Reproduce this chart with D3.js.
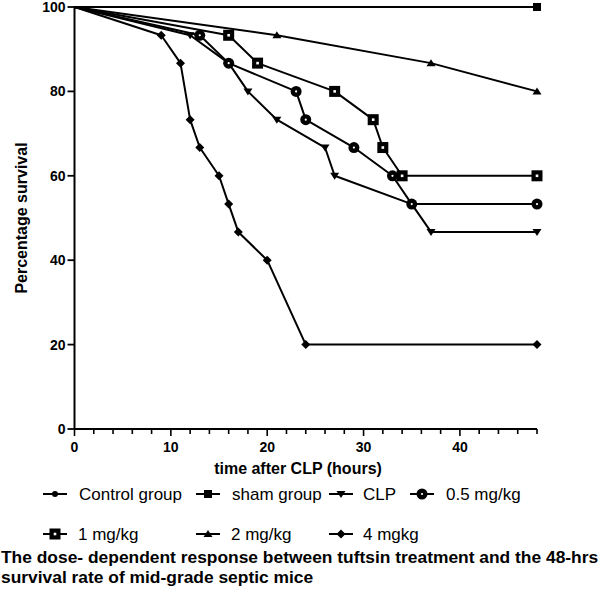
<!DOCTYPE html>
<html><head><meta charset="utf-8">
<script src="https://cdn.jsdelivr.net/npm/d3@7"></script>
<style>body{margin:0;background:#fff}svg{display:block}text{font-family:"Liberation Sans",Arial,sans-serif;fill:#000}</style>
</head><body>
<script>
// ---- data (time in hours, percentage survival) ----
const seriesNames = ["Control group","sham group","CLP","0.5 mg/kg","1 mg/kg","2 mg/kg","4 mgkg"];
const controlTime = [0,48];
const controlSurv = [100,100];
const shamTime = [0,48];
const shamSurv = [100,100];
const clpTime = [0,12,16,18,21,26,27,35,37,48];
const clpSurv = [100,93.3,86.7,80,73.3,66.7,60,53.3,46.7,46.7];
const d05Time = [0,13,16,23,24,29,33,35,48];
const d05Surv = [100,93.3,86.7,80,73.3,66.7,60,53.3,53.3];
const d1Time = [0,16,19,27,31,32,34,48];
const d1Surv = [100,93.3,86.7,80,73.3,66.7,60,60];
const d2Time = [0,21,37,48];
const d2Surv = [100,93.3,86.7,80];
const d4Time = [0,9,11,12,13,15,16,17,20,24,48];
const d4Surv = [100,93.3,86.7,73.3,66.7,60,53.3,46.7,40,20,20];
const xTicks = [0,10,20,30,40];
const yTicks = [0,20,40,60,80,100];
const xTitle = "time after CLP (hours)";
const yTitle = "Percentage survival";
const caption = ["The dose- dependent response between tuftsin treatment and the 48-hrs",
                 "survival rate of mid-grade septic mice"];

const W=600,H=598;
const svg=d3.select("body").append("svg").attr("width",W).attr("height",H);
const x=d3.scaleLinear().domain([0,48]).range([74.5,537]);
const y=d3.scaleLinear().domain([0,100]).range([429,7]);

// axes
const gx=svg.append("g").attr("transform",`translate(0,${y(0)})`);
gx.append("line").attr("x1",x(0)).attr("x2",x(48)).attr("stroke","#000").attr("stroke-width",2);
gx.selectAll("line.mt").data(d3.range(0,49,2)).join("line").attr("class","mt")
  .attr("x1",d=>x(d)).attr("x2",d=>x(d)).attr("y1",0).attr("y2",d=>d%10===0?7:5)
  .attr("stroke","#000").attr("stroke-width",1.6);
gx.selectAll("text").data(xTicks).join("text").attr("x",d=>x(d)).attr("y",23)
  .attr("text-anchor","middle").attr("font-size",14).attr("font-weight","bold").text(d=>d);
const gy=svg.append("g").attr("transform",`translate(${x(0)},0)`);
gy.append("line").attr("y1",y(0)).attr("y2",y(100)).attr("stroke","#000").attr("stroke-width",2);
gy.selectAll("line.t").data(yTicks).join("line").attr("class","t")
  .attr("x1",-7).attr("x2",0).attr("y1",d=>y(d)).attr("y2",d=>y(d)).attr("stroke","#000").attr("stroke-width",1.8);
gy.selectAll("text").data(yTicks).join("text").attr("x",-9).attr("y",d=>y(d)+5)
  .attr("text-anchor","end").attr("font-size",14).attr("font-weight","bold").text(d=>d);
svg.append("text").attr("x",298).attr("y",474).attr("text-anchor","middle")
  .attr("font-size",16).attr("font-weight","bold").text(xTitle);
svg.append("text").attr("transform",`translate(27,${y(50)}) rotate(-90)`).attr("text-anchor","middle")
  .attr("font-size",16).attr("font-weight","bold").text(yTitle);

// marker drawers
function mk(g,type,cx,cy){
  const s=g.append("g").attr("transform",`translate(${cx},${cy})`);
  switch(type){
    case "dot": s.append("circle").attr("r",3).attr("fill","#000"); break;
    case "fsquare": s.append("rect").attr("x",-4).attr("y",-4).attr("width",8).attr("height",8).attr("fill","#000"); break;
    case "tdown": s.append("path").attr("d","M-4.5,-3L4.5,-3L0,4Z").attr("fill","#000"); break;
    case "tup": s.append("path").attr("d","M-4.5,3L4.5,3L0,-4Z").attr("fill","#000"); break;
    case "circ": s.append("circle").attr("r",5.5).attr("fill","#000");
                 s.append("circle").attr("r",1.1).attr("fill","#fff"); break;
    case "osquare": s.append("rect").attr("x",-5.5).attr("y",-5.5).attr("width",11).attr("height",11).attr("fill","#000");
                 s.append("rect").attr("x",-1.3).attr("y",-1.3).attr("width",2.6).attr("height",2.6).attr("fill","#fff"); break;
    case "diamond": s.append("path").attr("d","M0,-4.5L4.5,0L0,4.5L-4.5,0Z").attr("fill","#000"); break;
  }
}
const series=[
  {t:d4Time,s:d4Surv,m:"diamond"},
  {t:d2Time,s:d2Surv,m:"tup"},
  {t:clpTime,s:clpSurv,m:"tdown"},
  {t:d05Time,s:d05Surv,m:"circ"},
  {t:d1Time,s:d1Surv,m:"osquare"},
  {t:controlTime,s:controlSurv,m:"dot"},
  {t:shamTime,s:shamSurv,m:"fsquare"}
];
const line=d3.line().x(d=>x(d[0])).y(d=>y(d[1]));
const gp=svg.append("g");
series.forEach(se=>{
  const pts=se.t.map((t,i)=>[t,se.s[i]]);
  gp.append("path").attr("d",line(pts)).attr("fill","none").attr("stroke","#000").attr("stroke-width",2).attr("stroke-linejoin","round");
});
series.forEach(se=>{
  se.t.forEach((t,i)=>{ if(i>0) mk(gp,se.m,x(t),y(se.s[i])); });
});

// legend
const legendItems=[
  {n:seriesNames[0],m:"dot",lx:43,tx:79,ly:494},
  {n:seriesNames[1],m:"fsquare",lx:196,tx:232,ly:494},
  {n:seriesNames[2],m:"tdown",lx:329,tx:363,ly:494},
  {n:seriesNames[3],m:"circ",lx:410,tx:446,ly:494},
  {n:seriesNames[4],m:"osquare",lx:43,tx:78,ly:534},
  {n:seriesNames[5],m:"tup",lx:196,tx:231,ly:534},
  {n:seriesNames[6],m:"diamond",lx:329,tx:363,ly:534}
];
const gl=svg.append("g");
legendItems.forEach(it=>{
  gl.append("line").attr("x1",it.lx).attr("x2",it.lx+24).attr("y1",it.ly).attr("y2",it.ly).attr("stroke","#000").attr("stroke-width",2);
  mk(gl,it.m,it.lx+12,it.ly);
  gl.append("text").attr("x",it.tx).attr("y",it.ly+6).attr("font-size",17).text(it.n);
});
svg.selectAll("text.cap").data(caption).join("text").attr("class","cap")
  .attr("x",1).attr("y",(d,i)=>563+i*20).attr("font-size",17.4).attr("font-weight","bold").text(d=>d);
</script>
</body></html>
